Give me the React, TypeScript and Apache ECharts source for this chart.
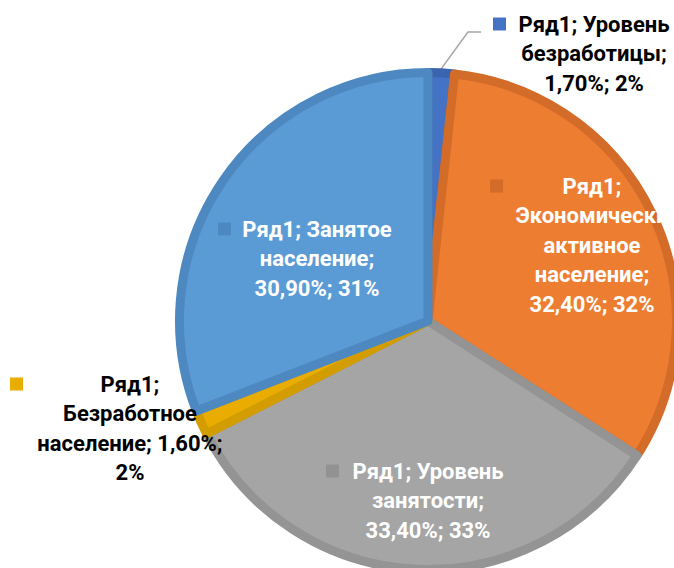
import { useEffect, useRef } from 'react';
import * as echarts from 'echarts';

// ---- data ----
const seriesName = 'Ряд1';
const categories = [
  'Уровень безработицы',
  'Экономически активное население',
  'Уровень занятости',
  'Безработное население',
  'Занятое население',
];
const values = [1.7, 32.4, 33.4, 1.6, 30.9];

// ---- presentation ----
const fillColors = ['#4472C4', '#ED7D31', '#A5A5A5', '#E9AD00', '#5B9BD5'];
const edgeColors = ['#3B64AE', '#D36B29', '#949494', '#D39D00', '#4E88C0'];
const keyColors = ['#4472C4', '#D36B29', '#929292', '#E9AD00', '#4E88C0'];
const labelInside = [false, true, true, false, true];
// words per label line
const lineBreaks = [[2, 1, 2], [1, 1, 1, 1, 2], [2, 1, 2], [1, 1, 2, 1], [2, 1, 2]];
// key square left, text centre x, first line centre y
const labelBoxes = [
  { left: 493, cx: 594, cy: 24 },
  { left: 490, cx: 592, cy: 186 },
  { left: 326, cx: 428, cy: 471 },
  { left: 10, cx: 130, cy: 384 },
  { left: 218, cx: 317, cy: 229 },
];

const CX = 428;
const CY = 321;
const OUTER = 253;
const BORDER = 9;
const R = OUTER - BORDER / 2;
const FONT = 22;
const LH = 29.5;
const SQ = 13;
const GAP = 13;

const fmtValue = (v: number) => v.toFixed(2).replace('.', ',') + '%';

function buildLabel(i: number) {
  const box = labelBoxes[i];
  const w = (box.cx - box.left - SQ - GAP) * 2 + SQ + GAP;
  const textColor = labelInside[i] ? '#FFFFFF' : '#000000';
  return {
    show: true,
    position: labelInside[i] ? 'inside' : 'outside',
    width: w,
    overflow: 'none',
    formatter: (p: any) => {
      const text = `${p.seriesName}; ${p.name}; ${fmtValue(p.value)}; ${Math.round(p.percent)}%`;
      const words = text.split(' ');
      const lines: string[] = [];
      let k = 0;
      for (const n of lineBreaks[i]) {
        lines.push(words.slice(k, k + n).join(' '));
        k += n;
      }
      return lines
        .map((l, j) => (j === 0 ? '{sq| }{g| }' : '{sp| }') + `{t|${l}}`)
        .join('\n');
    },
    rich: {
      sq: {
        width: SQ,
        height: SQ,
        backgroundColor: keyColors[i],
        align: 'left',
        verticalAlign: 'middle',
        fontSize: 1,
        lineHeight: LH,
      },
      g: { width: GAP, align: 'left', fontSize: 1, lineHeight: LH },
      sp: { width: SQ + GAP, align: 'left', fontSize: 1, lineHeight: LH },
      t: {
        align: 'center',
        color: textColor,
        fontFamily: 'Roboto',
        fontWeight: 'bold',
        fontSize: FONT,
        lineHeight: LH,
      },
    },
  };
}

export default function App() {
  const ref = useRef<HTMLDivElement>(null);
  useEffect(() => {
    if (!ref.current) return;
    const chart = echarts.init(ref.current, undefined, { renderer: 'svg' });
    const data = categories.map((name, i) => ({
      name,
      value: values[i],
      itemStyle: {
        color: fillColors[i],
        borderColor: edgeColors[i],
        borderWidth: BORDER,
      },
      label: buildLabel(i),
      labelLine: {
        show: !labelInside[i] && i === 0,
        lineStyle: { color: '#A6A6A6', width: 1.5 },
      },
    }));
    chart.setOption({
      animation: false,
      backgroundColor: '#FFFFFF',
      series: [
        {
          type: 'pie',
          name: seriesName,
          center: [CX, CY],
          radius: R,
          startAngle: 90,
          clockwise: true,
          avoidLabelOverlap: false,
          silent: true,
          data,
          labelLayout: (params: any) => {
            const box = labelBoxes[params.dataIndex];
            const res: any = {
              x: box.left,
              y: box.cy - LH / 2,
              align: 'left',
              verticalAlign: 'top',
            };
            if (params.dataIndex === 0 && params.labelLinePoints) {
              const [x0, y0] = params.labelLinePoints[0];
              const k = OUTER / R;
              const sx = CX + (x0 - CX) * k;
              const sy = CY + (y0 - CY) * k;
              const ky = box.cy + 8;
              res.labelLinePoints = [
                [sx, sy],
                [box.left - 25, ky],
                [box.left - 12, ky],
              ];
            }
            return res;
          },
        },
      ],
    });
    return () => chart.dispose();
  }, []);
  return (
    <div
      ref={ref}
      style={{ position: 'absolute', left: 0, top: 0, width: 674, height: 568 }}
    />
  );
}
